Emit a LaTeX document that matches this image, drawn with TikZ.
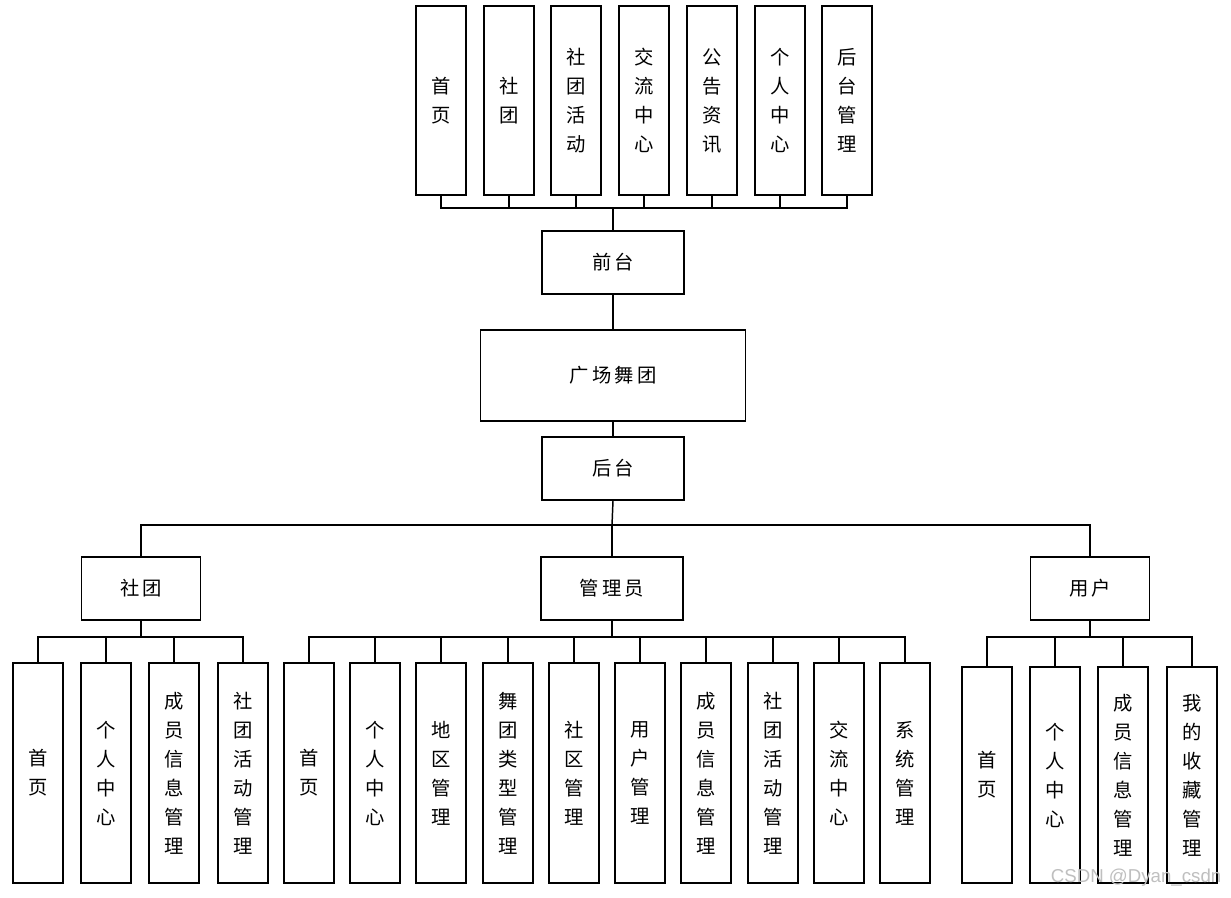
\documentclass[tikz,border=0pt]{standalone}
\usepackage{fontspec}
\usepackage{tikz}
\usetikzlibrary{positioning}
\newfontfamily\cjk{Noto Sans CJK SC}
\newfontfamily\wmfont{Liberation Sans}
\tikzset{
  box/.style={rectangle, draw=black, line width=1.1pt, fill=white, align=center,
              font=\cjk\fontsize{14.5}{21.75}\selectfont, inner sep=0pt},
  wide/.style={box, minimum width=106.5pt, minimum height=47.25pt},
  col/.style={box, minimum width=37.5pt, minimum height=141.75pt},
  leaf/.style={box, minimum width=37.5pt, minimum height=165pt},
  ln/.style={draw=black, line width=1.1pt},
}
\begin{document}
\begin{tikzpicture}[x=0.75pt,y=-0.75pt]
\useasboundingbox (0,0) rectangle (1231,897);

% front end
\foreach \x/\t [count=\i] in {441/首\\页, 509/社\\团, 576/社\\团\\活\\动, 644/交\\流\\中\\心,
    712/公\\告\\资\\讯, 780/个\\人\\中\\心, 847/后\\台\\管\\理}
  \node[col] (top\i) at (\x,100.5) {\t};
\node[wide] (front) at (613,262.5) {前\,台};
\node[box, minimum width=198.75pt, minimum height=68.25pt] (main) at (613,375.5) {广\,场\,舞\,团};
\node[wide] (back) at (613,468.5) {后\,台};

\coordinate (topbus) at (613,208);
\foreach \i in {1,...,7}
  \draw[ln] (top\i.south) |- (topbus);
\draw[ln] (topbus) -- (front.north);
\draw[ln] (front.south) -- (main.north);
\draw[ln] (main.south) -- (back.north);

% back end roles
\node[box, minimum width=89.25pt, minimum height=47.25pt] (soc) at (141,588.5) {社\,团};
\node[wide] (adm) at (612,588.5) {管\,理\,员};
\node[box, minimum width=89.25pt, minimum height=47.25pt] (usr) at (1090,588.5) {用\,户};

\coordinate (backbus) at (612,525);
\draw[ln] (back.south) -- (backbus);
\foreach \n in {soc,adm,usr}
  \draw[ln] (backbus) -| (\n.north);

% club pages
\foreach \x/\t [count=\i] in {38/首\\页, 106/个\\人\\中\\心, 174/成\\员\\信\\息\\管\\理,
    243/社\\团\\活\\动\\管\\理}
  \node[leaf] (soc\i) at (\x,773) {\t};
\coordinate (socbus) at (141,637);
\draw[ln] (soc.south) -- (socbus);
\foreach \i in {1,...,4}
  \draw[ln] (socbus) -| (soc\i.north);

% admin pages
\foreach \x/\t [count=\i] in {309/首\\页, 375/个\\人\\中\\心, 441/地\\区\\管\\理,
    508/舞\\团\\类\\型\\管\\理, 574/社\\区\\管\\理, 640/用\\户\\管\\理,
    706/成\\员\\信\\息\\管\\理, 773/社\\团\\活\\动\\管\\理, 839/交\\流\\中\\心,
    905/系\\统\\管\\理}
  \node[leaf] (adm\i) at (\x,773) {\t};
\coordinate (admbus) at (612,637);
\draw[ln] (adm.south) -- (admbus);
\foreach \i in {1,...,10}
  \draw[ln] (admbus) -| (adm\i.north);

% user pages
\foreach \x/\t [count=\i] in {987/首\\页, 1055/个\\人\\中\\心, 1123/成\\员\\信\\息\\管\\理,
    1192/我\\的\\收\\藏\\管\\理}
  \node[leaf, minimum height=162pt] (usr\i) at (\x,775) {\t};
\coordinate (usrbus) at (1090,637);
\draw[ln] (usr.south) -- (usrbus);
\foreach \i in {1,...,4}
  \draw[ln] (usrbus) -| (usr\i.north);

% watermark
\node[font=\wmfont\fontsize{14}{16}\selectfont, text=black!25, anchor=east] (mark) at (1226,878) {CSDN @Dyan\_csdn};
\end{tikzpicture}
\end{document}
